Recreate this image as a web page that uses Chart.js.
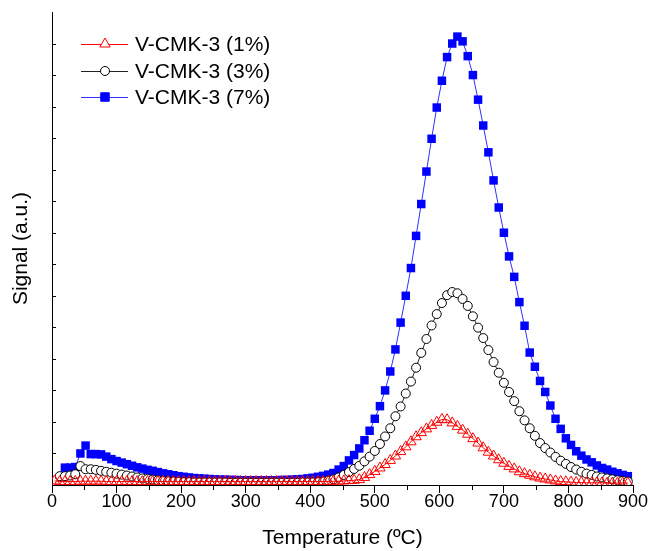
<!DOCTYPE html>
<html>
<head>
<meta charset="utf-8">
<script src="https://cdn.jsdelivr.net/npm/chart.js@4/dist/chart.umd.min.js"></script>
<style>
  body { margin: 0; background: #fff; }
  #wrap { width: 650px; height: 551px; }
</style>
</head>
<body>
<div id="wrap"><canvas id="myChart"></canvas></div>
<script>
/* TPD signal vs temperature */

const temperatures = [
  4, 12, 20, 28, 36, 44, 52, 60, 68, 76,
  84, 92, 100, 108, 116, 124, 132, 140, 148, 156,
  164, 172, 180, 188, 196, 204, 212, 220, 228, 236,
  244, 252, 260, 268, 276, 284, 292, 300, 308, 316,
  324, 332, 340, 348, 356, 364, 372, 380, 388, 396,
  404, 412, 420, 428, 436, 444, 452, 460, 468, 476,
  484, 492, 500, 508, 516, 524, 532, 540, 548, 556,
  564, 572, 580, 588, 596, 604, 612, 620, 628, 636,
  644, 652, 660, 668, 676, 684, 692, 700, 708, 716,
  724, 732, 740, 748, 756, 764, 772, 780, 788, 796,
  804, 812, 820, 828, 836, 844, 852, 860, 868, 876,
  884, 892
];

const signal1 = [
  0.13, 0.11, 0.11, 0.11, 0.11, 0.12, 0.12, 0.12, 0.12, 0.12,
  0.11, 0.11, 0.11, 0.11, 0.11, 0.11, 0.11, 0.11, 0.11, 0.11,
  0.11, 0.11, 0.11, 0.11, 0.11, 0.11, 0.11, 0.11, 0.11, 0.11,
  0.11, 0.11, 0.11, 0.11, 0.11, 0.11, 0.11, 0.11, 0.11, 0.11,
  0.11, 0.11, 0.11, 0.11, 0.11, 0.11, 0.11, 0.11, 0.11, 0.11,
  0.11, 0.11, 0.11, 0.11, 0.12, 0.12, 0.13, 0.14, 0.15, 0.17,
  0.24, 0.33, 0.43, 0.54, 0.65, 0.78, 0.92, 1.06, 1.21, 1.37,
  1.53, 1.66, 1.78, 1.89, 1.99, 2.08, 2.07, 1.97, 1.86, 1.74,
  1.61, 1.47, 1.33, 1.18, 1.04, 0.92, 0.80, 0.69, 0.59, 0.51,
  0.42, 0.36, 0.31, 0.26, 0.22, 0.19, 0.16, 0.13, 0.11, 0.10,
  0.09, 0.08, 0.08, 0.07, 0.07, 0.07, 0.07, 0.06, 0.06, 0.06,
  0.06, 0.06
];

const signal3 = [
  null, 0.28, 0.28, 0.30, 0.34, 0.60, 0.50, 0.50, 0.48, 0.45,
  0.42, 0.39, 0.36, 0.33, 0.30, 0.27, 0.24, 0.21, 0.19, 0.17,
  0.15, 0.13, 0.12, 0.11, 0.10, 0.09, 0.09, 0.08, 0.08, 0.08,
  0.08, 0.08, 0.08, 0.08, 0.07, 0.07, 0.07, 0.07, 0.07, 0.07,
  0.07, 0.07, 0.07, 0.07, 0.07, 0.07, 0.07, 0.07, 0.08, 0.08,
  0.08, 0.09, 0.11, 0.14, 0.18, 0.24, 0.32, 0.41, 0.51, 0.61,
  0.75, 0.90, 1.08, 1.30, 1.54, 1.80, 2.18, 2.49, 2.90, 3.28,
  3.72, 4.19, 4.63, 5.06, 5.42, 5.77, 6.02, 6.12, 6.08, 5.90,
  5.68, 5.35, 4.99, 4.66, 4.28, 3.90, 3.56, 3.24, 2.95, 2.66,
  2.34, 2.05, 1.80, 1.56, 1.33, 1.17, 1.03, 0.89, 0.77, 0.67,
  0.57, 0.49, 0.42, 0.36, 0.32, 0.27, 0.24, 0.21, 0.18, 0.15,
  0.13, 0.11
];

const signal7 = [
  null, null, 0.55, 0.55, 0.57, 1.00, 1.25, 0.98, 0.98, 0.97,
  0.90, 0.82, 0.76, 0.71, 0.66, 0.61, 0.56, 0.52, 0.48, 0.45,
  0.41, 0.37, 0.34, 0.31, 0.28, 0.26, 0.24, 0.22, 0.21, 0.20,
  0.19, 0.18, 0.17, 0.17, 0.16, 0.16, 0.15, 0.15, 0.15, 0.15,
  0.15, 0.15, 0.15, 0.15, 0.16, 0.16, 0.17, 0.18, 0.19, 0.21,
  0.23, 0.26, 0.29, 0.33, 0.38, 0.49, 0.60, 0.78, 0.95, 1.16,
  1.42, 1.72, 2.10, 2.50, 3.00, 3.60, 4.30, 5.15, 6.00, 6.88,
  7.90, 8.91, 9.94, 10.98, 11.97, 12.82, 13.57, 14.00, 14.22, 14.07,
  13.60, 13.00, 12.22, 11.40, 10.55, 9.66, 8.80, 8.00, 7.25, 6.60,
  5.80, 5.05, 4.20, 3.75, 3.30, 2.95, 2.52, 2.10, 1.78, 1.48,
  1.27, 1.07, 0.93, 0.81, 0.72, 0.62, 0.54, 0.49, 0.42, 0.37,
  0.32, 0.28
];

const seriesNames = ['V-CMK-3 (1%)', 'V-CMK-3 (3%)', 'V-CMK-3 (7%)'];
const xTickStep = 100;
const xMinorStep = 50;

const FONT = "'Liberation Sans', Arial, sans-serif";

function toPoints(arr) {
  return temperatures.map(function (t, i) { return { x: t, y: arr[i] }; });
}

// draws a legend marker by hand (line through a symbol)
function drawMarker(ctx, style, x, y, r, stroke, fill) {
  ctx.save();
  ctx.lineWidth = 1;
  ctx.strokeStyle = stroke;
  ctx.fillStyle = fill;
  ctx.beginPath();
  if (style === 'triangle') {
    ctx.moveTo(x, y - r);
    ctx.lineTo(x + Math.sin(2 * Math.PI / 3) * r, y + r / 2);
    ctx.lineTo(x - Math.sin(2 * Math.PI / 3) * r, y + r / 2);
    ctx.closePath();
  } else if (style === 'circle') {
    ctx.arc(x, y, r, 0, Math.PI * 2);
  } else {
    const s = r * Math.SQRT1_2;
    ctx.rect(x - s, y - s, 2 * s, 2 * s);
  }
  ctx.fill();
  ctx.stroke();
  ctx.restore();
}

const extraTicks = {
  id: 'extraTicks',
  afterDraw(chart) {
    const ctx = chart.ctx;
    const xs = chart.scales.x;
    const ys = chart.scales.y;
    ctx.save();
    ctx.strokeStyle = '#000';
    ctx.lineWidth = 1;
    ctx.beginPath();
    // minor ticks on the temperature axis
    for (let v = xMinorStep; v < xs.max; v += xTickStep) {
      const px = Math.round(xs.getPixelForValue(v)) + 0.5;
      ctx.moveTo(px, ys.bottom);
      ctx.lineTo(px, ys.bottom + 5);
    }
    // inward ticks on the signal axis
    for (let v = 1; v < ys.max; v += 1) {
      const py = Math.round(ys.getPixelForValue(v)) + 0.5;
      ctx.moveTo(xs.left, py);
      ctx.lineTo(xs.left + 4, py);
    }
    ctx.stroke();

    // legend
    const rows = [44, 71, 97];
    ctx.font = '21px ' + FONT;
    ctx.textBaseline = 'middle';
    ctx.textAlign = 'left';
    chart.data.datasets.forEach(function (ds, i) {
      const y = rows[i];
      ctx.beginPath();
      ctx.strokeStyle = ds.borderColor;
      ctx.moveTo(81, y + 0.5);
      ctx.lineTo(128, y + 0.5);
      ctx.stroke();
      drawMarker(ctx, ds.pointStyle, 105, y, ds.pointRadius,
        ds.pointBorderColor, ds.pointBackgroundColor === 'rgba(0,0,0,0)' ? '#fff' : ds.pointBackgroundColor);
      ctx.fillStyle = '#000';
      ctx.fillText(seriesNames[i], 135, y + 1);
    });
    ctx.restore();
  }
};

function init() {
  const data = {
    datasets: [
      {
        label: seriesNames[0],
        data: toPoints(signal1),
        borderColor: '#ff0000',
        borderWidth: 1,
        pointStyle: 'triangle',
        pointRadius: 6,
        pointBorderColor: '#ff0000',
        pointBackgroundColor: 'rgba(0,0,0,0)',
        pointBorderWidth: 1,
      },
      {
        label: seriesNames[1],
        data: toPoints(signal3),
        borderColor: '#222222',
        borderWidth: 1,
        pointStyle: 'circle',
        pointRadius: 4.5,
        pointBorderColor: '#000000',
        pointBackgroundColor: '#ffffff',
        pointBorderWidth: 1,
      },
      {
        label: seriesNames[2],
        data: toPoints(signal7),
        borderColor: '#3030ff',
        borderWidth: 1,
        pointStyle: 'rect',
        pointRadius: 6,
        pointBorderColor: '#0000ff',
        pointBackgroundColor: '#0000ff',
        pointBorderWidth: 0,
      },
    ]
  };

  new Chart(document.getElementById('myChart'), {
    type: 'line',
    data: data,
    plugins: [extraTicks],
    options: {
      responsive: true,
      maintainAspectRatio: false,
      animation: false,
      layout: { padding: { left: 0, right: 17, top: 12, bottom: 0 } },
      plugins: {
        legend: { display: false },
        tooltip: { enabled: false },
      },
      elements: { line: { tension: 0 } },
      scales: {
        x: {
          type: 'linear',
          min: 0,
          max: 900,
          afterFit: function (s) { s.height = 66; },
          grid: {
            display: true,
            drawOnChartArea: false,
            drawTicks: true,
            tickLength: 8,
            color: '#000',
          },
          border: { display: true, color: '#000', width: 1 },
          ticks: {
            stepSize: xTickStep,
            padding: -2,
            maxRotation: 0,
            color: '#000',
            font: { family: FONT, size: 18 },
          },
          title: {
            display: true,
            text: 'Temperature (ºC)',
            color: '#000',
            padding: { top: 0, bottom: 0 },
            font: { family: FONT, size: 21 },
          },
        },
        y: {
          min: 0,
          max: 15,
          afterFit: function (s) { s.width = 52; },
          grid: { display: false },
          border: { display: true, color: '#000', width: 1 },
          ticks: { display: false, stepSize: 1 },
          title: {
            display: true,
            text: 'Signal (a.u.)',
            color: '#000',
            padding: { top: 9, bottom: 0 },
            font: { family: FONT, size: 21 },
          },
        },
      },
    },
  });
}

document.addEventListener("DOMContentLoaded", init, false);
</script>
</body>
</html>
